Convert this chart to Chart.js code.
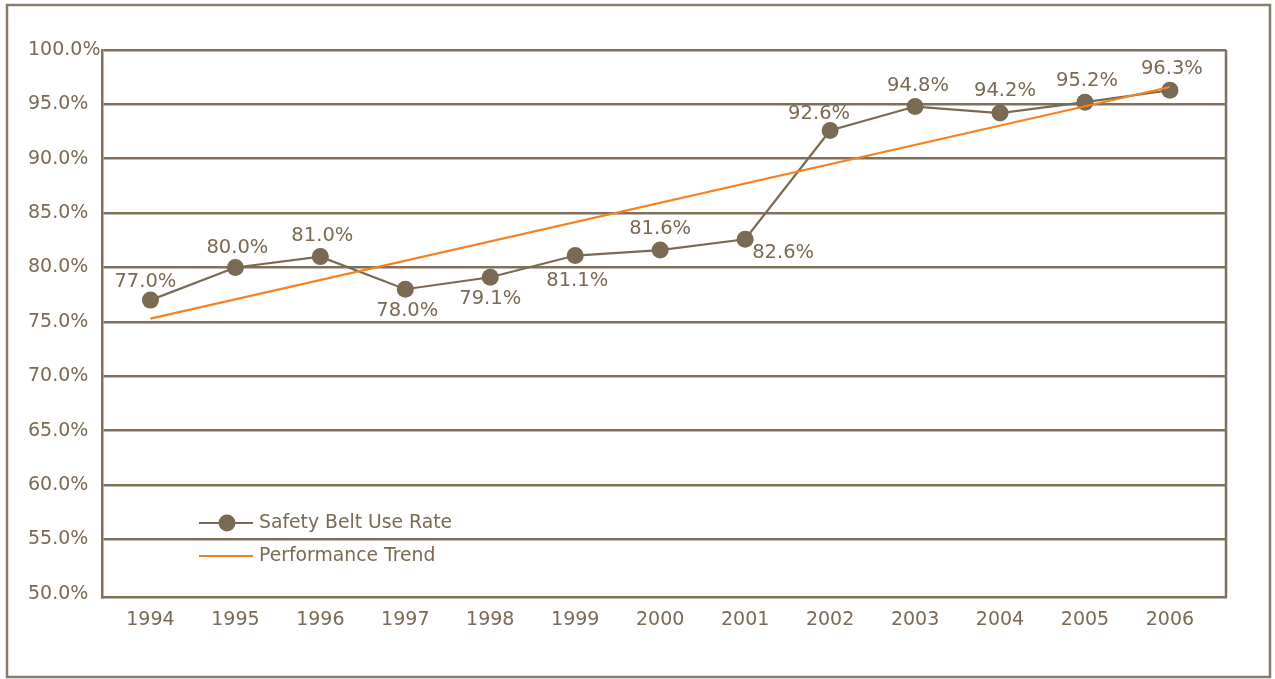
<!DOCTYPE html>
<html>
<head>
<meta charset="utf-8">
<style>
  html, body { margin: 0; padding: 0; background: #ffffff; }
  #wrap { position: relative; width: 1275px; height: 679px; }
  canvas { display: block; }
</style>
<script src="https://cdn.jsdelivr.net/npm/chart.js@4.4.1/dist/chart.umd.min.js"></script>
</head>
<body>
<div id="wrap"><canvas id="chart" width="1275" height="679"></canvas></div>
<script>
// Safety belt use rate by year, with the performance trend line
const years = ['1994', '1995', '1996', '1997', '1998', '1999', '2000', '2001', '2002', '2003', '2004', '2005', '2006'];
const useRate = [77.0, 80.0, 81.0, 78.0, 79.1, 81.1, 81.6, 82.6, 92.6, 94.8, 94.2, 95.2, 96.3];
const trendYears = ['1994', '2006'];
const trendValues = [75.3, 96.6];
const yTicks = [50, 55, 60, 65, 70, 75, 80, 85, 90, 95, 100];
const seriesNames = ['Safety Belt Use Rate', 'Performance Trend'];

// label placement around each point (dx, dy in px)
const labelOffsets = [
  [-5, -18], [2, -20], [2, -21], [2, 22], [0, 22], [2, 25],
  [0, -21], [38, 14], [-11, -17], [3, -21], [5, -22], [2, -21], [2, -21]
];

const BROWN = '#7a6953';
const GRID = '#7f705d';
const ORANGE = '#f4821f';
const FONT = '"DejaVu Sans", sans-serif';

const valueLabels = {
  id: 'valueLabels',
  afterDatasetsDraw(chart) {
    const ctx = chart.ctx;
    const meta = chart.getDatasetMeta(0);
    ctx.save();
    ctx.font = '19.5px ' + FONT;
    ctx.fillStyle = BROWN;
    ctx.textAlign = 'center';
    ctx.textBaseline = 'middle';
    meta.data.forEach((pt, i) => {
      const [dx, dy] = labelOffsets[i];
      ctx.fillText(useRate[i].toFixed(1) + '%', pt.x + dx, pt.y + dy);
    });
    ctx.restore();
  }
};

const frameAndLegend = {
  id: 'frameAndLegend',
  beforeDraw(chart) {
    const ctx = chart.ctx;
    ctx.save();
    ctx.fillStyle = '#ffffff';
    ctx.fillRect(0, 0, chart.width, chart.height);
    ctx.strokeStyle = '#8a7b67';
    ctx.lineWidth = 2.5;
    ctx.strokeRect(7, 5, 1263, 672);
    ctx.restore();
  },
  afterDraw(chart) {
    const ctx = chart.ctx;
    const a = chart.chartArea;
    ctx.save();
    // right edge of the plot frame
    ctx.strokeStyle = GRID;
    ctx.lineWidth = 2.5;
    ctx.beginPath();
    ctx.moveTo(a.right, a.top);
    ctx.lineTo(a.right, a.bottom);
    ctx.stroke();

    // legend inside the plot, lower left
    const lx0 = 199, lx1 = 253, tx = 259;
    const y1 = 523, y2 = 556;
    ctx.lineWidth = 2;
    ctx.strokeStyle = BROWN;
    ctx.beginPath();
    ctx.moveTo(lx0, y1); ctx.lineTo(lx1, y1); ctx.stroke();
    ctx.fillStyle = BROWN;
    ctx.beginPath();
    ctx.arc(227, y1, 8.5, 0, Math.PI * 2);
    ctx.fill();
    ctx.strokeStyle = ORANGE;
    ctx.beginPath();
    ctx.moveTo(lx0, y2); ctx.lineTo(lx1, y2); ctx.stroke();
    ctx.font = '18.8px ' + FONT;
    ctx.fillStyle = BROWN;
    ctx.textAlign = 'left';
    ctx.textBaseline = 'middle';
    ctx.fillText(seriesNames[0], tx, y1);
    ctx.fillText(seriesNames[1], tx, y2);
    ctx.restore();
  }
};

new Chart(document.getElementById('chart'), {
  type: 'line',
  data: {
    datasets: [
      {
        label: seriesNames[0],
        data: years.map((y, i) => ({ x: Number(y), y: useRate[i] })),
        borderColor: BROWN,
        backgroundColor: BROWN,
        borderWidth: 2.2,
        pointRadius: 8.5,
        pointHoverRadius: 8.5,
        pointBorderWidth: 0,
        tension: 0,
        clip: false,
        order: 2
      },
      {
        label: seriesNames[1],
        data: trendYears.map((y, i) => ({ x: Number(y), y: trendValues[i] })),
        borderColor: ORANGE,
        backgroundColor: ORANGE,
        borderWidth: 2.2,
        pointRadius: 0,
        tension: 0,
        clip: false,
        order: 1
      }
    ]
  },
  plugins: [frameAndLegend, valueLabels],
  options: {
    responsive: false,
    animation: false,
    devicePixelRatio: 1,
    layout: { padding: { left: 28, right: 49, top: 50, bottom: 42 } },
    plugins: {
      legend: { display: false },
      tooltip: { enabled: false }
    },
    scales: {
      x: {
        type: 'linear',
        min: 1993.43,
        max: 2006.66,
        afterBuildTicks(scale) {
          scale.ticks = years.map(y => ({ value: Number(y) }));
        },
        afterFit(scale) { scale.height = 40; },
        grid: { display: false, drawTicks: false },
        border: { display: true, color: GRID, width: 2.5 },
        ticks: {
          padding: 12,
          color: BROWN,
          font: { family: FONT, size: 19 },
          callback: (v) => String(v),
          maxRotation: 0,
          autoSkip: false
        }
      },
      y: {
        min: 49.7,
        max: 100,
        afterBuildTicks(scale) {
          scale.ticks = yTicks.map(v => ({ value: v }));
        },
        afterFit(scale) { scale.width = 74; },
        grid: {
          drawTicks: false,
          lineWidth: 2.5,
          color: (c) => (c.tick && c.tick.value === 50) ? 'rgba(0,0,0,0)' : GRID
        },
        border: { display: true, color: GRID, width: 2.5 },
        ticks: {
          crossAlign: 'far',
          padding: 0,
          color: BROWN,
          font: { family: FONT, size: 19 },
          callback: (v) => Number(v).toFixed(1) + '%'
        }
      }
    }
  }
});
</script>
</body>
</html>
